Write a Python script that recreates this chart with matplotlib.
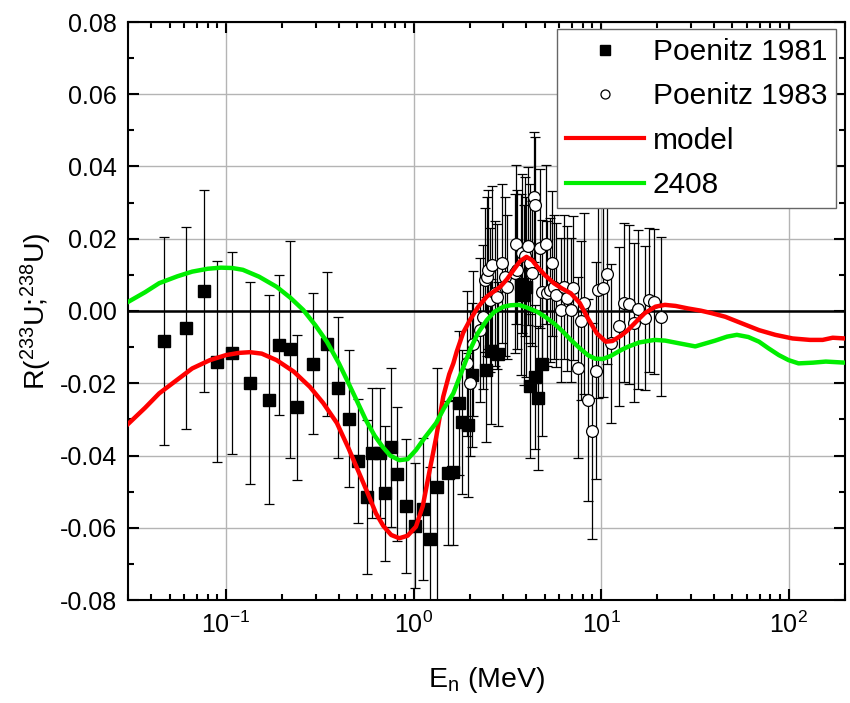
import numpy as np
import matplotlib
matplotlib.use("Agg")
import matplotlib.pyplot as plt
from matplotlib.ticker import MultipleLocator, LogLocator, NullFormatter, FixedLocator
from matplotlib.lines import Line2D

plt.rcParams['font.family'] = ['Liberation Sans', 'DejaVu Sans']
plt.rcParams['mathtext.fontset'] = 'custom'
plt.rcParams['mathtext.rm'] = 'Liberation Sans'
plt.rcParams['mathtext.it'] = 'Liberation Sans'

# Poenitz 1981 (filled squares)
p81_E = [0.0466, 0.061, 0.076, 0.0895, 0.1077, 0.134, 0.169, 0.191, 0.218, 0.240,
         0.291, 0.345, 0.395, 0.453, 0.504, 0.564, 0.604, 0.663, 0.707, 0.762,
         0.813, 0.917, 1.016, 1.117, 1.22, 1.33, 1.52, 1.63, 1.75, 1.81,
         1.94, 2.04, 2.42, 2.59, 2.82, 3.75, 3.9, 4.0, 4.2, 4.44, 4.62, 4.84]
p81_R = [-0.0083, -0.0048, 0.0055, -0.0140, -0.0117, -0.0200, -0.0245, -0.0094, -0.0106, -0.0267,
         -0.0146, -0.0092, -0.0212, -0.0298, -0.0416, -0.0514, -0.0392, -0.0393, -0.0505, -0.0377,
         -0.0451, -0.0540, -0.0595, -0.0548, -0.0631, -0.0487, -0.0449, -0.0447, -0.0255, -0.0307,
         -0.0315, -0.0177, -0.0162, -0.0112, -0.0119, 0.0074, 0.0044, 0.0066, -0.0208, -0.0183, -0.0241, -0.0147]
p81_err = [0.0288, 0.0280, 0.0280, 0.0278, 0.0280, 0.0280, 0.0290, 0.0194, 0.0300, 0.0200,
           0.0195, 0.0200, 0.0196, 0.0190, 0.0172, 0.0213, 0.0180, 0.0180, 0.0187, 0.0220,
           0.0186, 0.0186, 0.0173, 0.0196, 0.0200, 0.0330, 0.0200, 0.0200, 0.0200, 0.0200,
           0.0200, 0.0200, 0.0200, 0.0200, 0.0200, 0.0250, 0.0250, 0.0250, 0.0200, 0.0200, 0.0200, 0.0200]

# Poenitz 1983 (open circles)
p83_E = [1.92, 2.0, 2.08, 2.26, 2.36, 2.40, 2.46, 2.50, 2.56, 2.62,
         2.73, 2.78, 2.96, 3.09, 3.15, 3.46, 3.53, 3.56, 3.79, 3.95,
         4.06, 4.2, 4.29, 4.40, 4.47, 4.7, 4.85, 5.06, 5.17, 5.37,
         5.45, 5.6, 5.73, 6.1, 6.35, 6.6, 6.9, 7.1, 7.5, 7.8,
         8.15, 8.48, 8.9, 9.4, 9.6, 10.2, 10.8, 11.3, 12.4, 13.2,
         14.1, 15.0, 15.8, 17.1, 18.0, 19.2, 20.8]
p83_R = [-0.0145, -0.0200, -0.0090, -0.0053, -0.0016, 0.0086, 0.0095, 0.0114, 0.0030, 0.0127,
         0.0049, 0.0040, 0.0132, 0.0095, 0.0067, 0.0104, 0.0185, 0.0114, 0.0160, 0.0152,
         0.0180, 0.0132, 0.0104, 0.0316, 0.0293, 0.0174, 0.0053, 0.0185, 0.0049, 0.0058,
         0.0132, 0.0067, 0.0044, 0.0003, 0.0067, 0.0035, 0.0003, 0.0063, -0.0157, -0.0027,
         0.0021, -0.0246, -0.0332, -0.0165, 0.0058, 0.0063, 0.0102, -0.0089, -0.0042, 0.0023,
         0.0019, -0.0032, 0.0005, -0.0020, 0.0030, 0.0026, -0.0016]
p83_err = [0.020, 0.020, 0.020, 0.020, 0.020, 0.020, 0.022, 0.022, 0.020, 0.022,
           0.020, 0.020, 0.022, 0.022, 0.020, 0.022, 0.022, 0.022, 0.022, 0.022,
           0.022, 0.022, 0.020, 0.018, 0.019, 0.022, 0.020, 0.022, 0.020, 0.020,
           0.020, 0.020, 0.020, 0.020, 0.020, 0.020, 0.020, 0.020, 0.025, 0.022,
           0.025, 0.028, 0.030, 0.030, 0.030, 0.030, 0.025, 0.022, 0.022, 0.022,
           0.022, 0.022, 0.022, 0.020, 0.020, 0.020, 0.022]

# model curve (red)
model_E = [0.03, 0.037, 0.044, 0.055, 0.066, 0.082, 0.10, 0.117, 0.134, 0.155,
           0.186, 0.23, 0.28, 0.33, 0.39, 0.45, 0.513, 0.57, 0.63, 0.69,
           0.76, 0.84, 0.93, 1.03, 1.12, 1.22, 1.32, 1.44, 1.55, 1.63,
           1.70, 1.84, 2.0, 2.2, 2.46, 2.9, 3.15, 3.42, 3.7, 4.0,
           4.3, 4.56, 5.0, 5.6, 6.2, 6.9, 7.7, 8.5, 9.5, 10.6,
           11.5, 12.8, 13.9, 15.5, 17.1, 19.5, 21.9, 25, 29.1, 34,
           38.9, 46, 55, 69.6, 85, 105, 130, 152, 172, 200]
model_R = [-0.0313, -0.0268, -0.0228, -0.0190, -0.0159, -0.0136, -0.0122, -0.0116, -0.0114, -0.0118,
           -0.0136, -0.0168, -0.0210, -0.0255, -0.0310, -0.0380, -0.0449, -0.0505, -0.0560, -0.0595,
           -0.0620, -0.0629, -0.0622, -0.0597, -0.0540, -0.0440, -0.0350, -0.0237, -0.0175, -0.0145,
           -0.0112, -0.0060, -0.0025, 0.0010, 0.0040, 0.0067, 0.0088, 0.0114, 0.0138, 0.0150,
           0.0140, 0.0123, 0.0100, 0.0077, 0.0062, 0.0049, 0.0022, -0.0020, -0.0062, -0.0085,
           -0.0083, -0.0068, -0.0053, -0.0028, -0.0006, 0.0012, 0.0017, 0.0014, 0.0007, 0.0001,
           -0.0006, -0.0016, -0.0032, -0.0053, -0.0066, -0.0076, -0.0080, -0.0080, -0.0074, -0.0076]

# 2408 curve (green)
c2408_E = [0.03, 0.037, 0.044, 0.055, 0.066, 0.08, 0.094, 0.108, 0.123, 0.15,
           0.186, 0.22, 0.258, 0.30, 0.345, 0.40, 0.45, 0.50, 0.557, 0.62,
           0.684, 0.75, 0.84, 0.93, 1.03, 1.15, 1.32, 1.45, 1.63, 1.8,
           2.0, 2.2, 2.46, 2.7, 3.02, 3.3, 3.64, 4.0, 4.56, 5.0,
           5.6, 6.2, 6.9, 7.7, 8.5, 9.3, 10.2, 11.2, 12.8, 13.9,
           16, 19.3, 22, 25.8, 31.8, 40.6, 47, 53, 61, 69.6,
           78, 88.7, 100, 113, 135, 158, 200]
c2408_R = [0.0025, 0.0052, 0.0077, 0.0096, 0.0109, 0.0117, 0.0120, 0.0119, 0.0114, 0.0095,
           0.0067, 0.0037, 0.0003, -0.0040, -0.0085, -0.0145, -0.0200, -0.0250, -0.0302, -0.0345,
           -0.0376, -0.0400, -0.0413, -0.0410, -0.0385, -0.0350, -0.0310, -0.0270, -0.0228, -0.0170,
           -0.0108, -0.0062, -0.0025, -0.0002, 0.0012, 0.0016, 0.0017, 0.0010, -0.0002, -0.0015,
           -0.0034, -0.0055, -0.0080, -0.0103, -0.0122, -0.0132, -0.0133, -0.0125, -0.0108, -0.0099,
           -0.0087, -0.0080, -0.0082, -0.0089, -0.0098, -0.0082, -0.0071, -0.0066, -0.0072, -0.0085,
           -0.0103, -0.0122, -0.0136, -0.0145, -0.0143, -0.0140, -0.0143]

fig = plt.figure(figsize=(8.5, 7.03), dpi=100)
ax = fig.add_axes([128/850, 1 - 600/703, (845-128)/850, (600-22)/703])

ax.set_xscale('log')
ax.set_xlim(0.03, 200)
ax.set_ylim(-0.08, 0.08)

ax.grid(True, which='major', color='#b4b4b4', lw=1.0, zorder=0)
ax.set_axisbelow(True)
ax.axhline(0, color='black', lw=1.8, zorder=1)

ax.errorbar(p81_E, p81_R, yerr=p81_err, fmt='s', color='black', ms=8,
            ecolor='black', elinewidth=0.9, capsize=3.6, capthick=0.9,
            label='Poenitz 1981', zorder=2)
ax.errorbar(p83_E, p83_R, yerr=p83_err, fmt='o', mfc='white', mec='black', mew=0.9,
            ms=8.5, ecolor='black', elinewidth=0.9, capsize=3.6, capthick=0.9,
            label='Poenitz 1983', zorder=3)
ax.plot(model_E, model_R, color='#ff0000', lw=3.2, label='model', zorder=4)
ax.plot(c2408_E, c2408_R, color='#00ee00', lw=3.2, label='2408', zorder=5)

ax.yaxis.set_major_locator(MultipleLocator(0.02))
ax.yaxis.set_minor_locator(MultipleLocator(0.01))
ax.yaxis.set_major_formatter(matplotlib.ticker.FuncFormatter(lambda v, p: f"{v:.2f}"))
ax.xaxis.set_major_locator(FixedLocator([0.1, 1, 10, 100]))
ax.xaxis.set_minor_locator(LogLocator(base=10, subs=np.arange(2, 10), numticks=20))
ax.xaxis.set_minor_formatter(NullFormatter())
ax.set_xticklabels([r'$10^{-1}$', r'$10^{0}$', r'$10^{1}$', r'$10^{2}$'])

ax.tick_params(which='both', direction='in', top=True, right=True, width=1.5)
ax.tick_params(which='major', length=8, labelsize=18, pad=8)
ax.tick_params(which='minor', length=4.5)
for s in ax.spines.values():
    s.set_linewidth(1.5)

ax.set_xlabel(r'E$_{\mathrm{n}}$ (MeV)', fontsize=20.5, labelpad=20)
ax.set_ylabel(r'R($^{233}$U;$^{238}$U)', fontsize=20.5, labelpad=4)

h81 = Line2D([], [], marker='s', color='black', ls='none', ms=6.5)
h83 = Line2D([], [], marker='o', mfc='white', mec='black', ls='none', ms=6.5, mew=0.9)
hm = Line2D([], [], color='#ff0000', lw=3)
hg = Line2D([], [], color='#00ee00', lw=3)
leg = ax.legend([h81, h83, hm, hg], ['Poenitz 1981', 'Poenitz 1983', 'model', '2408'],
                loc='upper right', bbox_to_anchor=(1 - 9/717, 1 - 7/578), borderaxespad=0,
                fontsize=21.5, handlelength=2.6, handletextpad=0.3, labelspacing=0.55,
                fancybox=False, framealpha=1, edgecolor='#666666', borderpad=0.3)
leg.get_frame().set_linewidth(1.0)
leg.set_zorder(10)

fig.savefig('out.png', dpi=100)
